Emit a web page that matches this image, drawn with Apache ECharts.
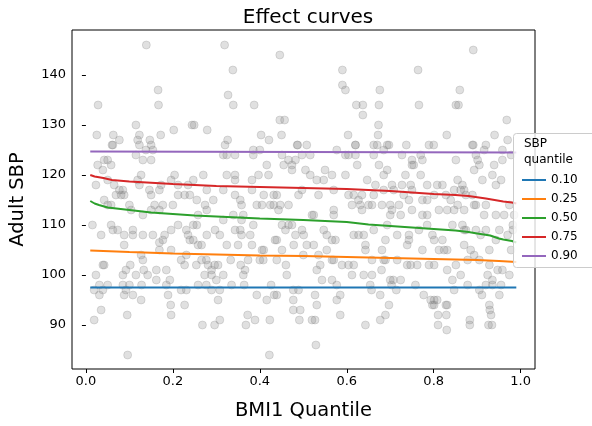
<!DOCTYPE html>
<html>
<head>
<meta charset="utf-8">
<script src="https://cdn.jsdelivr.net/npm/echarts@6/dist/echarts.min.js"></script>
<style>html,body{margin:0;padding:0;background:#fff;}#c{width:592px;height:426px;}</style>
</head>
<body>
<div id="c"></div>
<script>
// Tick labels
const xTicks = [0.0, 0.2, 0.4, 0.6, 0.8, 1.0];
const yTicks = [90, 100, 110, 120, 130, 140];

// Quantile curves
const curveNames = ['0.10', '0.25', '0.50', '0.75', '0.90'];
const q10 = [[0.01, 97.5], [0.5, 97.5], [0.99, 97.5]];
const q25 = [[0.01, 104.9], [0.1, 104.6], [0.2, 104.3], [0.3, 104.1], [0.4, 103.9], [0.5, 103.8], [0.6, 103.6], [0.7, 103.4], [0.8, 103.2], [0.9, 103.0], [0.95, 102.8], [0.99, 102.6]];
const q50 = [[0.01, 114.8], [0.02, 114.3], [0.03, 114.0], [0.05, 113.5], [0.1, 113.0], [0.15, 112.5], [0.2, 112.2], [0.25, 111.9], [0.3, 111.7], [0.4, 111.3], [0.5, 111.0], [0.6, 110.6], [0.65, 110.1], [0.7, 109.8], [0.75, 109.5], [0.8, 109.2], [0.85, 108.9], [0.88, 108.6], [0.9, 108.3], [0.93, 107.9], [0.95, 107.3], [0.96, 107.1], [0.98, 106.8], [0.99, 106.5]];
const q75 = [[0.01, 120.0], [0.02, 119.7], [0.04, 119.4], [0.06, 119.0], [0.1, 118.7], [0.2, 118.2], [0.3, 117.8], [0.4, 117.6], [0.5, 117.4], [0.6, 117.2], [0.7, 116.8], [0.8, 116.2], [0.85, 116.0], [0.88, 115.8], [0.92, 115.3], [0.94, 115.0], [0.96, 114.7], [0.98, 114.5], [0.99, 114.3]];
const q90 = [[0.01, 124.7], [0.5, 124.6], [0.99, 124.5]];

// Observed points [BMI1 quantile, adult SBP]
const pointsTop = [
[0.139,146],[0.166,137],[0.028,134],[0.167,134],[0.115,130],[0.025,128],[0.063,128],[0.123,128],[0.172,128],[0.202,129],[0.244,130],[0.077,127],[0.119,127],[0.147,127],[0.06,126],
[0.319,146],[0.446,144],[0.338,141],[0.327,136],[0.339,134],[0.387,134],[0.249,130],[0.279,129],[0.446,131],[0.457,131],[0.326,127],[0.403,128],[0.421,127],[0.450,128],[0.487,126],
[0.590,141],[0.764,141],[0.590,138],[0.597,137],[0.676,137],[0.622,134],[0.637,134],[0.674,134],[0.766,134],[0.637,132],[0.673,130],[0.603,128],[0.672,128],[0.620,126],[0.670,126],[0.693,126],[0.737,126],
[0.891,145],[0.860,137],[0.851,134],[0.857,134],[0.968,131],[0.80,126],[0.891,126],[0.83,128],[0.94,128],[0.97,127],[0.92,126]
];
const pointsA = [
[0.062,126],[0.123,126],[0.150,126],[0.115,124],[0.138,125],[0.154,125],[0.131,123],[0.150,123],[0.027,122],[0.042,123],[0.050,123],[0.058,122],[0.039,121],[0.023,118],[0.050,119],[0.065,118],[0.077,117],[0.085,117],[0.069,116],[0.081,116],[0.088,116],[0.042,115],[0.050,114],[0.058,114],[0.100,114],[0.104,113],[0.127,120],[0.119,119],[0.123,118],[0.146,117],[0.150,116],[0.169,117],[0.173,118],[0.196,119],[0.204,120],[0.212,118],[0.235,118],[0.212,116],[0.227,116],[0.239,116],[0.200,114],[0.158,114],[0.177,114],[0.169,113],[0.150,113],[0.131,112],[0.015,110],[0.035,108],[0.058,110],[0.062,109],[0.073,109],[0.088,108],[0.108,109],[0.108,108],[0.131,108],[0.154,108],[0.181,108],[0.177,107],[0.169,106.5],[0.196,109],[0.212,110],[0.231,109],[0.235,108],[0.239,107],[0.088,106],[0.127,104],[0.169,105],[0.196,105],[0.231,104]
];
const pointsB = [
[0.32,126],[0.385,125],[0.40,125],[0.486,126],[0.508,126],[0.316,124],[0.324,124],[0.343,124],[0.385,124],[0.451,124],[0.482,123],[0.497,124],[0.516,124],[0.466,123],[0.416,122],[0.455,122],[0.474,122],[0.474,121],[0.505,121],[0.516,120],[0.27,120],[0.324,120],[0.343,120],[0.343,119],[0.382,119],[0.397,120],[0.42,120],[0.247,119],[0.278,117],[0.316,117],[0.343,116],[0.355,115],[0.358,114],[0.382,117],[0.409,116],[0.432,116],[0.439,116],[0.489,116],[0.497,117],[0.255,115],[0.274,114],[0.293,115],[0.393,114],[0.405,114],[0.424,114],[0.432,114],[0.447,114],[0.466,114],[0.443,113],[0.278,113],[0.258,112],[0.339,112],[0.316,111],[0.358,111],[0.362,112],[0.52,112],[0.247,110],[0.255,110],[0.278,108],[0.297,109],[0.308,108],[0.343,109],[0.355,109],[0.358,108],[0.378,108],[0.385,110],[0.451,110],[0.466,110],[0.474,110],[0.459,109],[0.497,109],[0.482,108],[0.501,108],[0.258,106],[0.266,106],[0.324,106],[0.35,106],[0.382,106],[0.405,105],[0.409,105],[0.435,107],[0.439,107],[0.451,105],[0.478,106],[0.508,106],[0.50,104],[0.247,107]
];
const pointsC = [
[0.62,126],[0.662,126],[0.697,126],[0.577,125],[0.597,124],[0.604,124],[0.62,124],[0.662,124],[0.685,125],[0.727,124],[0.75,123],[0.77,124],[0.789,126],[0.624,122],[0.674,122],[0.693,121],[0.685,120],[0.75,122],[0.754,122],[0.774,123],[0.735,120],[0.77,120],[0.55,121],[0.566,120],[0.597,120],[0.547,119],[0.531,119],[0.647,119],[0.666,118],[0.704,118],[0.727,118],[0.747,118],[0.75,117],[0.785,118],[0.535,116],[0.57,117],[0.604,116],[0.616,116],[0.635,116],[0.662,116],[0.685,117],[0.708,117],[0.731,116],[0.627,115],[0.612,114],[0.631,114],[0.65,114],[0.658,114],[0.635,113],[0.681,114],[0.70,114],[0.72,114],[0.743,115],[0.75,113],[0.774,115],[0.785,115],[0.57,113],[0.57,112],[0.524,112],[0.704,113],[0.70,112],[0.724,112],[0.774,112],[0.785,112],[0.547,109],[0.554,108],[0.566,107],[0.574,107],[0.616,108],[0.627,108],[0.639,108],[0.662,109],[0.693,110],[0.716,108],[0.743,108],[0.743,107],[0.766,109],[0.785,110],[0.797,108],[0.524,106],[0.554,105],[0.643,106],[0.643,105],[0.681,105],[0.689,107],[0.739,106],[0.774,105],[0.535,104]
];
const pointsD = [
[0.889,126],[0.916,125],[0.958,125],[0.851,123],[0.897,124],[0.901,123],[0.939,122],[0.958,123],[0.893,121],[0.905,122],[0.978,124],[0.855,119],[0.866,118],[0.862,117],[0.87,117],[0.912,119],[0.935,120],[0.955,119],[0.943,118],[0.808,118],[0.801,116],[0.82,118],[0.828,116],[0.839,115],[0.847,117],[0.874,116],[0.889,116],[0.897,114],[0.893,114],[0.855,114],[0.812,113],[0.831,113],[0.847,113],[0.87,113],[0.916,112],[0.943,112],[0.962,112],[0.985,112],[0.974,114],[0.92,114],[0.982,110],[0.843,110],[0.866,110],[0.87,109],[0.874,109],[0.897,109],[0.908,108],[0.92,109],[0.943,107],[0.951,109],[0.97,108],[0.982,109],[0.812,105],[0.824,105],[0.831,105],[0.87,106],[0.885,105],[0.893,104],[0.928,105],[0.978,105],[0.801,107],[0.82,107]
];
const pointsE = [
[0.023,100],[0.042,102],[0.039,102],[0.031,98],[0.019,97],[0.039,97],[0.031,96],[0.05,98],[0.035,93],[0.019,91],[0.085,98],[0.100,98],[0.092,97],[0.088,96],[0.108,96],[0.127,95],[0.102,102],[0.092,101],[0.085,100],[0.115,100],[0.131,103],[0.133,101],[0.142,100],[0.162,101],[0.185,101],[0.162,99],[0.193,99],[0.185,98],[0.128,98],[0.219,103],[0.227,102],[0.219,97],[0.231,97],[0.189,96],[0.195,94],[0.227,94],[0.196,92],[0.095,92],[0.096,84]
];
const pointsF = [
[0.254,102],[0.266,103],[0.277,103],[0.281,102],[0.296,102],[0.304,102],[0.289,100],[0.273,100],[0.316,100],[0.289,101],[0.30,99],[0.333,103],[0.356,102],[0.362,100],[0.366,101],[0.373,103],[0.40,103],[0.408,103],[0.439,103],[0.46,102],[0.462,100],[0.258,98],[0.277,98],[0.289,97],[0.308,97],[0.335,98],[0.364,98],[0.426,98],[0.304,95],[0.393,96],[0.416,95],[0.433,96],[0.439,96],[0.477,97],[0.489,97],[0.477,95],[0.477,93],[0.493,93],[0.268,90],[0.296,90],[0.308,91],[0.372,92],[0.389,91],[0.368,90],[0.423,91],[0.491,91],[0.52,91],[0.422,84]
];
const pointsG = [
[0.531,101],[0.539,102],[0.566,103],[0.57,103],[0.589,102],[0.604,102],[0.616,102],[0.658,103],[0.685,103],[0.689,103],[0.716,103],[0.739,102],[0.747,102],[0.762,102],[0.789,102],[0.543,99],[0.566,99],[0.577,98],[0.612,100],[0.639,100],[0.658,100],[0.68,101],[0.654,98],[0.657,97],[0.70,99],[0.707,99],[0.724,99],[0.703,98],[0.714,97],[0.758,98],[0.527,96],[0.585,96],[0.577,95],[0.677,96],[0.777,96],[0.793,95],[0.531,94],[0.697,94],[0.797,94],[0.527,91],[0.585,92],[0.643,90],[0.677,91],[0.689,92],[0.529,86]
];
const pointsH = [
[0.801,102],[0.831,101],[0.851,102],[0.862,100],[0.843,99],[0.878,103],[0.905,103],[0.928,102],[0.947,101],[0.958,101],[0.974,100],[0.924,100],[0.878,98],[0.92,98],[0.935,99],[0.935,98],[0.955,98],[0.905,97],[0.911,96],[0.951,96],[0.847,97],[0.801,95],[0.808,95],[0.828,94],[0.831,94],[0.801,94],[0.928,94],[0.929,93],[0.932,92],[0.81,92],[0.829,92],[0.883,91],[0.883,90],[0.926,90],[0.934,90],[0.81,90],[0.83,89]
];

const colors = ['#1f77b4', '#ff7f0e', '#2ca02c', '#d62728', '#9467bd'];
const curves = [q10, q25, q50, q75, q90];
const allPoints = [].concat(pointsTop, pointsA, pointsB, pointsC, pointsD, pointsE, pointsF, pointsG, pointsH);

const FONT = 'DejaVu Sans';
const chart = echarts.init(document.getElementById('c'), null, {renderer: 'canvas'});

const series = [{
  type: 'scatter',
  data: allPoints,
  symbol: 'circle',
  symbolSize: 8,
  silent: true,
  z: 1,
  itemStyle: {color: 'rgba(128,128,128,0.3)', borderColor: 'rgba(128,128,128,0.3)', borderWidth: 1}
}];
curves.forEach((d, i) => {
  series.push({
    type: 'line', name: curveNames[i], data: d, showSymbol: false, symbol: 'none',
    z: 3 + i, lineStyle: {color: colors[i], width: 2}, itemStyle: {color: colors[i]}
  });
});

chart.setOption({
  animation: false,
  backgroundColor: '#fff',
  title: {text: 'Effect curves', left: 303, top: 3, textAlign: 'center',
    textStyle: {fontFamily: FONT, fontSize: 20, fontWeight: 'normal', color: '#000'}},
  grid: {left: 71, right: 57, top: 30, bottom: 51, show: true, borderColor: '#000', borderWidth: 1, containLabel: false},
  xAxis: {
    type: 'value', min: -0.032, max: 1.033,
    name: 'BMI1 Quantile', nameLocation: 'middle', nameGap: 32,
    nameTextStyle: {fontFamily: FONT, fontSize: 19.5, color: '#000'},
    axisLine: {show: false}, splitLine: {show: false},
    axisTick: {show: true, customValues: xTicks, length: 4, lineStyle: {color: '#000'}},
    axisLabel: {customValues: xTicks, formatter: v => v.toFixed(1), fontFamily: FONT, fontSize: 13, color: '#000', margin: 6}
  },
  yAxis: {
    type: 'value', min: 81.2, max: 149.0,
    name: 'Adult SBP', nameLocation: 'middle', nameGap: 44,
    nameTextStyle: {fontFamily: FONT, fontSize: 19.5, color: '#000'},
    axisLine: {show: false}, splitLine: {show: false},
    axisTick: {show: true, customValues: yTicks, length: 4, lineStyle: {color: '#000'}},
    axisLabel: {customValues: yTicks, fontFamily: FONT, fontSize: 13, color: '#000', margin: 6}
  },
  legend: {
    data: curveNames, orient: 'vertical', left: 517, top: 169,
    icon: 'rect', itemWidth: 24, itemHeight: 2, itemGap: 7,
    textStyle: {fontFamily: FONT, fontSize: 12, color: '#000'},
    z: 20
  },
  graphic: [
    {type: 'rect', left: 513, top: 133, z: 15, shape: {width: 100, height: 134, r: 3},
      style: {fill: 'rgba(255,255,255,0.8)', stroke: '#cccccc', lineWidth: 1}},
    {type: 'text', left: 524, top: 136, z: 16,
      style: {text: 'SBP\nquantile', font: '12px "DejaVu Sans"', fill: '#000', lineHeight: 16}}
  ],
  series: series
});
</script>
</body>
</html>
